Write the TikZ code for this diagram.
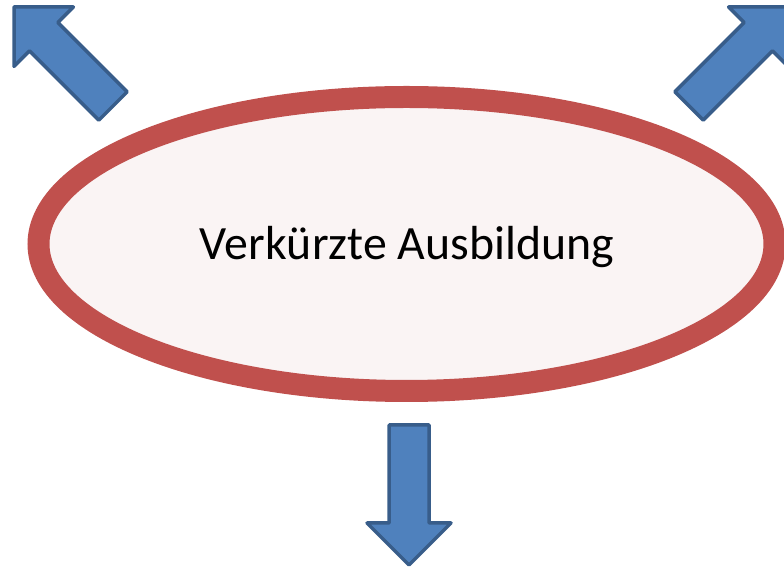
\documentclass[tikz,border=0pt]{standalone}
\usepackage{fontspec}
\setmainfont{Carlito}
\usetikzlibrary{positioning, calc}

\definecolor{ringred}{HTML}{C0504D}
\definecolor{ringfill}{HTML}{FAF4F4}
\definecolor{arrowblue}{HTML}{4F81BD}
\definecolor{arrowedge}{HTML}{385D8A}

\tikzset{
    ring/.style={draw=ringred, fill=ringfill, line width=22pt},
    blockarrow/.style={draw=arrowedge, fill=arrowblue, line width=3.5pt, line join=round}
}

\begin{document}
\begin{tikzpicture}[x=1pt, y=1pt]
    \useasboundingbox (0,0) rectangle (784,575);

        \def \len {140}
        \def \head {42}
        \def \shaft {20} % half widths
        \def \wing {42}

        % the three block arrows: tip x / tip y / direction
        \foreach \tx/\ty/\dir in {14/568/135, 788/568/45, 409/10/270}
        {
          \draw[blockarrow, shift={(\tx,\ty)}, rotate=\dir]
            (0,0) -- (-\head,\wing) -- (-\head,\shaft) -- (-\len,\shaft)
            -- (-\len,-\shaft) -- (-\head,-\shaft) -- (-\head,-\wing) -- cycle;
        }

        \draw[ring] (406.5,331) ellipse [x radius=368, y radius=147];
        \node (ausbildung) at (407,328) {\fontsize{47.8}{57}\selectfont Verkürzte Ausbildung};
\end{tikzpicture}
\end{document}
